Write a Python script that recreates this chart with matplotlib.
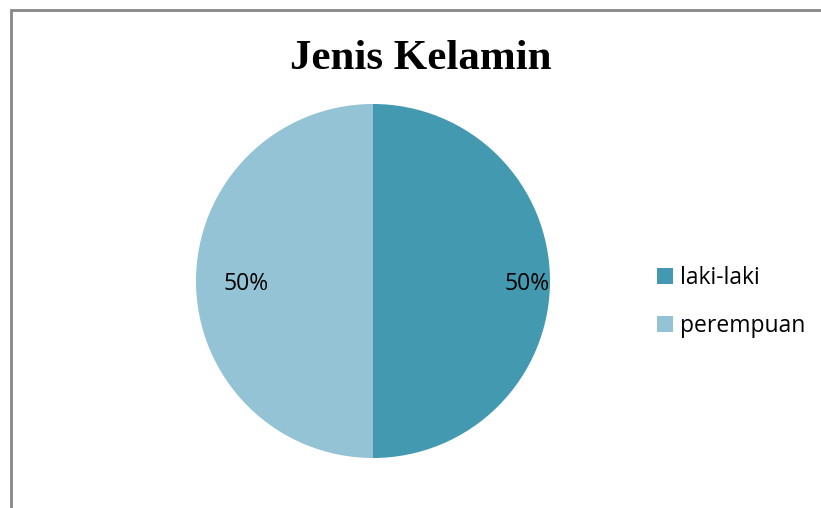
import matplotlib.pyplot as plt
import matplotlib.patches as mpatches

labels = ['laki-laki', 'perempuan']
values = [50, 50]
colors = ['#4299B0', '#93C3D5']

W, H = 821, 508
fig = plt.figure(figsize=(W / 100, H / 100), dpi=100)

# outer chart border (right/bottom run off the image)
fig.patches.append(mpatches.Rectangle((11 / W, -0.02), 1.05, 1 - 10 / H + 0.02,
                                      transform=fig.transFigure, fill=False,
                                      edgecolor='#888888', linewidth=2))

cx, cy, r = 373, 281, 177
ax = fig.add_axes([(cx - r) / W, (H - cy - r) / H, 2 * r / W, 2 * r / H])
wedges, texts, pcts = ax.pie(values, colors=colors, startangle=90, counterclock=False,
                             autopct='%1.0f%%', pctdistance=0.8, radius=1,
                             wedgeprops=dict(linewidth=0),
                             textprops=dict(family='Open Sans', fontsize=16.5, color='black'))
pcts[0].set_position((154 / r, -3 / r))
pcts[1].set_position((-127 / r, -3 / r))
ax.set_xlim(-1, 1)
ax.set_ylim(-1, 1)
ax.set_aspect('equal')

fig.text(421 / W, 1 - 59 / H, 'Jenis Kelamin', ha='center', va='center',
         family='Liberation Serif', fontweight='bold', fontsize=31)

leg = fig.legend(wedges, labels, loc='center left', bbox_to_anchor=(636 / W, 1 - 302 / H),
                 frameon=False, prop=dict(family='Open Sans', size=16.5),
                 handlelength=0.7, handleheight=0.7, handletextpad=0.3, labelspacing=1.05)

fig.savefig('out.png', dpi=100)
